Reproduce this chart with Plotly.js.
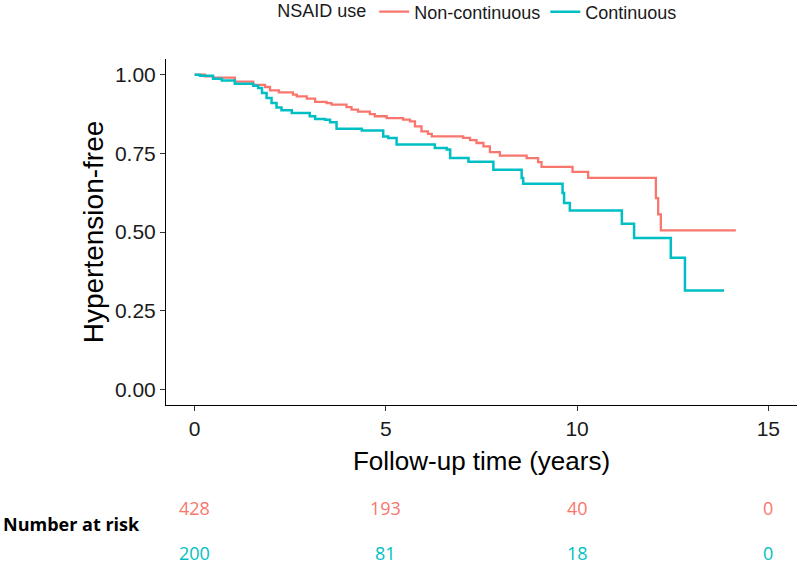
<!DOCTYPE html>
<html>
<head>
<meta charset="utf-8">
<script src="https://cdn.plot.ly/plotly-3.0.1.min.js"></script>
<style>html,body{margin:0;padding:0;background:#fff;}#chart{width:800px;height:565px;}</style>
</head>
<body>
<div id="chart"></div>
<script>
// Kaplan-Meier step data
const nonContTime = [0, 0.27, 0.48, 1.05, 1.53, 1.84, 1.97, 2.2, 2.57, 2.67, 2.93, 3.15, 3.45, 3.58, 3.97, 4.1, 4.27, 4.58, 4.71, 5.02, 5.45, 5.63, 5.76, 5.93, 6.1, 6.2, 7.02, 7.2, 7.37, 7.55, 7.72, 7.98, 8.68, 8.98, 9.07, 9.88, 10.29, 12.06, 12.12, 12.19, 14.15];
const nonContSurv = [1.0, 0.995, 0.991, 0.978, 0.968, 0.961, 0.950, 0.944, 0.937, 0.931, 0.924, 0.914, 0.910, 0.905, 0.897, 0.889, 0.883, 0.875, 0.868, 0.862, 0.857, 0.852, 0.836, 0.820, 0.812, 0.804, 0.799, 0.792, 0.783, 0.772, 0.754, 0.743, 0.735, 0.722, 0.707, 0.691, 0.672, 0.608, 0.556, 0.505, 0.505];

const contTime = [0, 0.14, 0.48, 0.71, 1.05, 1.53, 1.66, 1.76, 1.88, 2.01, 2.14, 2.27, 2.54, 3.01, 3.15, 3.41, 3.54, 3.71, 4.37, 4.93, 5.06, 5.28, 6.28, 6.59, 6.68, 7.16, 7.81, 8.55, 8.59, 9.62, 9.66, 9.81, 11.17, 11.49, 12.45, 12.82, 13.84];
const contSurv = [1.0, 0.997, 0.987, 0.982, 0.971, 0.965, 0.958, 0.942, 0.926, 0.910, 0.896, 0.887, 0.878, 0.868, 0.859, 0.857, 0.849, 0.828, 0.823, 0.804, 0.799, 0.778, 0.767, 0.762, 0.735, 0.723, 0.698, 0.672, 0.653, 0.624, 0.592, 0.568, 0.526, 0.481, 0.418, 0.314, 0.314];

const seriesNames = ["Non-continuous", "Continuous"];
const seriesColors = ["#F8766D", "#00BFC4"];

// Number at risk table
const riskTimes = [0, 5, 10, 15];
const riskNonCont = [428, 193, 40, 0];
const riskCont = [200, 81, 18, 0];

const xTicks = [0, 5, 10, 15];
const yTicks = [0, 0.25, 0.5, 0.75, 1.0];
const yTickText = ["0.00", "0.25", "0.50", "0.75", "1.00"];

const traces = [
  {x: nonContTime, y: nonContSurv, name: seriesNames[0], type: "scatter", mode: "lines",
   line: {shape: "hv", color: seriesColors[0], width: 2.3}},
  {x: contTime, y: contSurv, name: seriesNames[1], type: "scatter", mode: "lines",
   line: {shape: "hv", color: seriesColors[1], width: 2.5}}
];

const annotations = [];
const rowY = [-0.298, -0.428];
const riskRows = [riskNonCont, riskCont];
riskRows.forEach((row, r) => {
  row.forEach((v, i) => {
    annotations.push({x: riskTimes[i], y: rowY[r], xref: "x", yref: "paper", text: String(v),
      showarrow: false, xanchor: "center", yanchor: "middle",
      font: {family: "Open Sans, sans-serif", size: 18, color: seriesColors[r]}});
  });
});
annotations.push({x: -0.262, y: -0.344, xref: "paper", yref: "paper", text: "<b>Number at risk</b>",
  showarrow: false, xanchor: "left", yanchor: "middle",
  font: {family: "Open Sans, sans-serif", size: 18, color: "#000"}});

const layout = {
  width: 800, height: 565,
  margin: {l: 166, r: 3, t: 59, b: 160, autoexpand: false},
  paper_bgcolor: "#fff", plot_bgcolor: "#fff",
  font: {family: "Liberation Sans, Arial, sans-serif", color: "#1a1a1a"},
  showlegend: true,
  legend: {orientation: "h", x: 0.173, xanchor: "left", y: 1.136, yanchor: "middle",
    title: {text: "NSAID use", font: {size: 18, color: "#1a1a1a"}},
    font: {size: 18, color: "#1a1a1a"}, itemwidth: 30, tracegroupgap: 0},
  xaxis: {range: [-0.75, 15.75], tickvals: xTicks, ticks: "outside", ticklen: 5, tickwidth: 1,
    tickcolor: "#333", showline: true, linecolor: "#000", linewidth: 1, zeroline: false, showgrid: false,
    tickfont: {size: 21, color: "#1a1a1a"},
    title: {text: "Follow-up time (years)", font: {size: 26, color: "#000"}, standoff: 12}},
  yaxis: {range: [-0.05, 1.05], tickvals: yTicks, ticktext: yTickText, ticks: "outside", ticklen: 5, tickwidth: 1,
    tickcolor: "#333", showline: true, linecolor: "#000", linewidth: 1, zeroline: false, showgrid: false,
    tickfont: {size: 21, color: "#1a1a1a"},
    title: {text: "Hypertension-free", font: {size: 28, color: "#000"}, standoff: 3}},
  annotations: annotations
};

Plotly.newPlot("chart", traces, layout, {displayModeBar: false, staticPlot: true});
</script>
</body>
</html>
